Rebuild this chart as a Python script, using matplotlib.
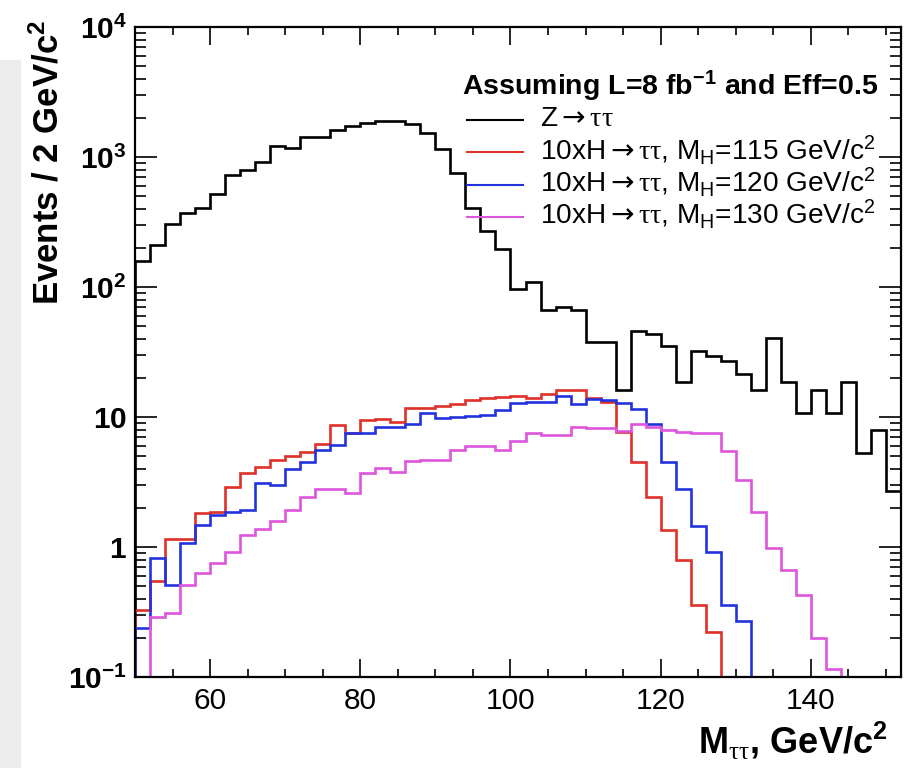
import numpy as np
import matplotlib
matplotlib.use("Agg")
import matplotlib.pyplot as plt
from matplotlib.patches import Rectangle
from matplotlib.ticker import FixedLocator, MultipleLocator, LogLocator, NullFormatter

plt.rcParams["font.family"] = ["Liberation Sans", "DejaVu Sans"]
plt.rcParams["mathtext.fontset"] = "custom"
plt.rcParams["mathtext.rm"] = "Liberation Sans"
plt.rcParams["mathtext.it"] = "Liberation Sans:italic"
plt.rcParams["mathtext.bf"] = "Liberation Sans:bold"
plt.rcParams["mathtext.sf"] = "DejaVu Sans"        # used for the arrow
plt.rcParams["mathtext.cal"] = "Liberation Serif"  # used for the taus

# 2 GeV/c^2 bins, 50 .. 152
bin_edges = np.arange(50, 154, 2)

# Z -> tautau
z_tautau = [158, 209, 303, 373, 407, 522, 723, 794, 920, 1208,
            1172, 1432, 1432, 1622, 1722, 1816, 1900, 1880, 1800, 1538,
            1146, 749, 407, 268, 195, 97, 110, 67, 70, 66.5,
            38, 38, 16.1, 45.9, 43.5, 35.2, 18.7, 32.4, 29.5, 27.1,
            21.3, 16.1, 40.3, 18.7, 10.7, 16.1, 10.7, 18.7, 5.3, 7.9,
            2.7]

# 10 x H -> tautau, MH = 115
h115 = [0.33, 0.55, 1.16, 1.16, 1.84, 1.86, 2.91, 3.73, 4.15, 4.67,
        5.0, 5.38, 6.23, 8.7, 7.5, 9.5, 9.7, 9.2, 11.7, 11.7,
        12.2, 12.7, 13.4, 14.1, 14.3, 14.5, 14.0, 15.0, 16.1, 16.1,
        13.9, 13.1, 7.7, 4.53, 2.44, 1.35, 0.79, 0.36, 0.22, 0,
        0, 0, 0, 0, 0, 0, 0, 0, 0, 0,
        0]

# 10 x H -> tautau, MH = 120
h120 = [0.24, 0.83, 0.51, 1.07, 1.48, 1.76, 1.87, 1.91, 3.09, 3.0,
        3.95, 4.48, 5.57, 6.1, 7.5, 7.5, 8.4, 8.4, 8.9, 10.7,
        9.8, 10.0, 10.2, 10.4, 11.3, 12.9, 13.1, 13.1, 14.5, 12.7,
        13.8, 13.5, 12.9, 11.5, 8.8, 4.53, 2.8, 1.45, 0.92, 0.36,
        0.27, 0, 0, 0, 0, 0, 0, 0, 0, 0,
        0]

# 10 x H -> tautau, MH = 130
h130 = [0, 0.29, 0.31, 0.51, 0.63, 0.75, 0.92, 1.24, 1.37, 1.59,
        1.93, 2.44, 2.78, 2.8, 2.59, 3.69, 4.08, 3.8, 4.59, 4.7,
        4.7, 5.6, 6.0, 6.0, 5.6, 6.5, 7.5, 7.3, 7.3, 8.4,
        8.2, 8.2, 7.8, 8.9, 8.4, 7.9, 7.7, 7.5, 7.5, 5.5,
        3.27, 1.85, 0.98, 0.66, 0.43, 0.20, 0.115, 0, 0, 0,
        0]

series_values = [z_tautau, h115, h120, h130]
series_colors = ["black", "#e0302a", "#2233dd", "#dd55dd"]
decay = r"$\mathsf{\rightarrow}\mathcal{\tau\tau}$"
series_labels = [
    "Z" + decay,
    "10xH" + decay + r", M$_{\mathrm{H}}$=115 GeV/c$^{2}$",
    "10xH" + decay + r", M$_{\mathrm{H}}$=120 GeV/c$^{2}$",
    "10xH" + decay + r", M$_{\mathrm{H}}$=130 GeV/c$^{2}$",
]

ytick_vals = [0.1, 1, 10, 100, 1000, 10000]
ytick_labels = [r"$\mathbf{10^{-1}}$", r"$\mathbf{1}$", r"$\mathbf{10}$",
                r"$\mathbf{10^{2}}$", r"$\mathbf{10^{3}}$", r"$\mathbf{10^{4}}$"]
xtick_vals = [60, 80, 100, 120, 140]

W, H = 907, 768
fig = plt.figure(figsize=(W / 100, H / 100), dpi=100)
ax = fig.add_axes([135 / W, 1 - 677 / H, (901 - 135) / W, (677 - 27) / H])

# light grey strip on the left edge of the screenshot
fig.patches.append(Rectangle((0, 0), 20 / W, 708 / H, transform=fig.transFigure,
                             color="#ececec", zorder=-1))

floor = 1e-3
for vals, col in zip(series_values, series_colors):
    v = np.array(vals, dtype=float)
    v = np.where(v > 0, v, floor)
    ax.stairs(v, bin_edges, baseline=floor, color=col, lw=1.9)

ax.set_yscale("log")
ax.set_xlim(50, 152)
ax.set_ylim(0.1, 1e4)

ax.yaxis.set_major_locator(FixedLocator(ytick_vals))
ax.set_yticklabels(ytick_labels)
ax.yaxis.set_minor_locator(LogLocator(base=10, subs=np.arange(2, 10)))
ax.yaxis.set_minor_formatter(NullFormatter())
ax.xaxis.set_major_locator(FixedLocator(xtick_vals))
ax.set_xticklabels([str(t) for t in xtick_vals])
ax.xaxis.set_minor_locator(MultipleLocator(5))

ax.tick_params(which="both", direction="in", top=True, right=True, width=1.2)
ax.tick_params(axis="y", which="major", length=16, pad=6, labelsize=21.5)
ax.tick_params(axis="y", which="minor", length=8)
ax.tick_params(axis="x", which="major", length=13, pad=7, labelsize=21.5)
ax.tick_params(axis="x", which="minor", length=6)
for sp in ax.spines.values():
    sp.set_linewidth(1.6)

# axis titles (ROOT style: aligned to the end of the axis)
fig.text(48 / W, 1 - 20 / H, r"Events / 2 GeV/c$^{\mathbf{2}}$", rotation=90,
         ha="center", va="top", fontsize=25, fontweight="bold")
fig.text(888 / W, 1 - 754 / H, r"M$_{\mathcal{\tau\tau}}$, GeV/c$^{\mathbf{2}}$",
         ha="right", va="baseline", fontsize=26, fontweight="bold")


# legend
def to_ax(px, py):
    return (px - 135) / 766, (677 - py) / 650


hx, hy = to_ax(462, 95)
ax.text(hx, hy, r"Assuming L=8 fb$^{\mathbf{-1}}$ and Eff=0.5", transform=ax.transAxes,
        ha="left", va="baseline", fontsize=20.5, fontweight="bold")
line_y = [120, 152, 185, 217]
text_base = [126, 160, 192, 224]
for lab, col, ly, tb in zip(series_labels, series_colors, line_y, text_base):
    x0, y0 = to_ax(467, ly)
    x1, _ = to_ax(523, ly)
    ax.plot([x0, x1], [y0, y0], color=col, lw=1.5, transform=ax.transAxes, clip_on=False)
    tx, ty = to_ax(540, tb)
    ax.text(tx, ty, lab, transform=ax.transAxes, ha="left", va="baseline", fontsize=20.2)

plt.savefig("out.png", dpi=100)
